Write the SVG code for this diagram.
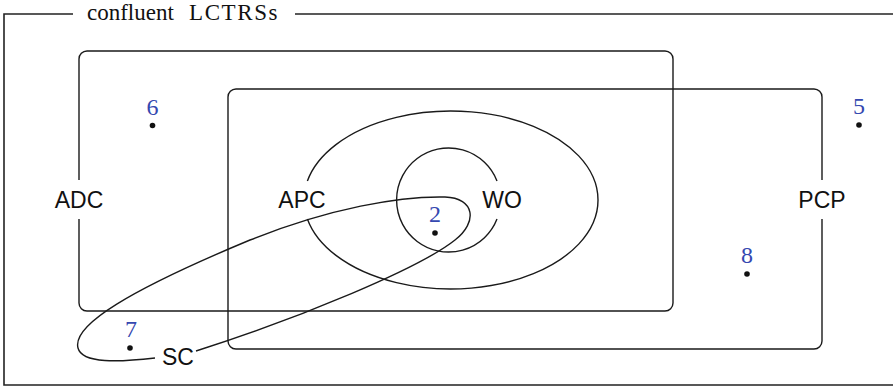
<svg xmlns="http://www.w3.org/2000/svg" width="893" height="388" viewBox="0 0 893 388">
<style>
.ln{fill:none;stroke:#1a1a1a;stroke-width:1.4}
.fr{fill:none;stroke:#222;stroke-width:1.6}
.lb{font-family:"Liberation Sans",Arial,sans-serif;font-size:23px;fill:#111;text-anchor:middle}
.num{font-family:"Liberation Serif","Times New Roman",serif;font-size:24px;fill:#3548b0;text-anchor:middle}
.dot{fill:#111}
.ttl{font-family:"Liberation Serif","Times New Roman",serif;font-size:23px;fill:#111}
</style>
<rect width="893" height="388" fill="#fff"/>
<g id="frame">
<path class="fr" d="M73,14 H4 V385 H895"/>
<path class="fr" d="M295,14 H895"/>
<text class="ttl" x="87" y="20">confluent<tspan x="189" letter-spacing="1.6">LCTRSs</tspan></text>
</g>
<g id="ADC">
<path class="ln" d="M79,219 V303 A8,8 0 0 0 87,311 H665 A8,8 0 0 0 673,303 V59 A8,8 0 0 0 665,51 H87 A8,8 0 0 0 79,59 V180"/>
<text class="lb" x="79" y="208">ADC</text>
</g>
<g id="PCP">
<path class="ln" d="M822,180 V97 A8,8 0 0 0 814,89 H236 A8,8 0 0 0 228,97 V341 A8,8 0 0 0 236,349 H814 A8,8 0 0 0 822,341 V219"/>
<text class="lb" x="822" y="208">PCP</text>
</g>
<g id="APC">
<path class="ln" d="M307.4,181 A147,89 0 1 1 307.4,219"/>
<text class="lb" x="302" y="208">APC</text>
</g>
<g id="WO">
<path class="ln" d="M497,219 A52,52 0 1 1 497,181"/>
<text class="lb" x="502" y="208">WO</text>
</g>
<g id="SC">
<path class="ln" d="M155,358 C120,362 82,364 78,348 C72,325 130,290 250,240 C330,208 400,196 445,197 C475,198 478,222 455,240 C420,268 300,318 196,351"/>
<text class="lb" x="178" y="365">SC</text>
</g>
<g id="p6"><text class="num" x="152.5" y="115">6</text><circle class="dot" cx="152.5" cy="125.5" r="2.8"/></g>
<g id="p5"><text class="num" x="859" y="114">5</text><circle class="dot" cx="859" cy="125" r="2.8"/></g>
<g id="p2"><text class="num" x="435" y="222">2</text><circle class="dot" cx="435" cy="233" r="2.8"/></g>
<g id="p8"><text class="num" x="747" y="263">8</text><circle class="dot" cx="747" cy="274" r="2.8"/></g>
<g id="p7"><text class="num" x="131" y="337">7</text><circle class="dot" cx="130" cy="348" r="2.8"/></g>
</svg>
